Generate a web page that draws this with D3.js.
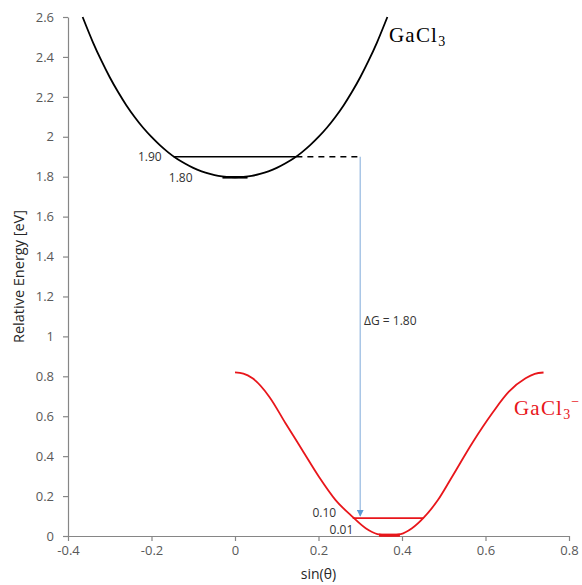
<html>
<head>
<meta charset="utf-8">
<script src="https://d3js.org/d3.v7.min.js"></script>
<style>
  body { margin: 0; background: #fff; }
  svg text { font-family: "Open Sans", "Liberation Sans", sans-serif; }
</style>
</head>
<body>
<svg width="582" height="585"></svg>
<script>
// ---------------- data ----------------
const xTicks = [-0.4, -0.2, 0, 0.2, 0.4, 0.6, 0.8];
const xTickLabels = ["-0.4", "-0.2", "0", "0.2", "0.4", "0.6", "0.8"];
const yTicks = [0, 0.2, 0.4, 0.6, 0.8, 1, 1.2, 1.4, 1.6, 1.8, 2, 2.2, 2.4, 2.6];
const yTickLabels = ["0", "0.2", "0.4", "0.6", "0.8", "1", "1.2", "1.4", "1.6", "1.8", "2", "2.2", "2.4", "2.6"];

// GaCl3 (neutral) curve
const neutralSin = [-0.365, -0.34, -0.32, -0.30, -0.28, -0.26, -0.24, -0.22, -0.20, -0.18, -0.16, -0.14, -0.12, -0.10, -0.08, -0.06, -0.04, -0.02, 0,
  0.02, 0.04, 0.06, 0.08, 0.10, 0.12, 0.14, 0.16, 0.18, 0.20, 0.22, 0.24, 0.26, 0.28, 0.30, 0.32, 0.34, 0.365];
const neutralEnergy = [2.600, 2.472, 2.381, 2.298, 2.224, 2.157, 2.098, 2.045, 1.999, 1.958, 1.922, 1.891, 1.866, 1.844, 1.827, 1.814, 1.804, 1.799, 1.797,
  1.799, 1.804, 1.814, 1.827, 1.844, 1.866, 1.891, 1.922, 1.958, 1.999, 2.045, 2.098, 2.157, 2.224, 2.298, 2.381, 2.472, 2.600];

// GaCl3- (anion) curve
const anionSin = [0.000, 0.020, 0.042, 0.082, 0.121, 0.161, 0.201, 0.241, 0.281, 0.313, 0.341, 0.369, 0.397, 0.424, 0.452, 0.486, 0.520, 0.568, 0.616, 0.656, 0.696, 0.718, 0.739];
const anionEnergy = [0.820, 0.814, 0.790, 0.698, 0.565, 0.431, 0.297, 0.180, 0.097, 0.039, 0.010, 0.003, 0.010, 0.039, 0.092, 0.180, 0.297, 0.465, 0.615, 0.723, 0.790, 0.812, 0.819];

// levels and annotations
const neutralLevel = { x0: -0.147, x1: 0.147, y: 1.90 };
const neutralMin = { x0: -0.03, x1: 0.03, y: 1.797 };
const anionLevel = { x0: 0.282, x1: 0.452, y: 0.09 };
const anionMin = { x0: 0.345, x1: 0.395, y: 0.004 };
const dashLevel = { x0: 0.147, x1: 0.30, y: 1.90 };
const arrowData = { x: 0.30, y0: 1.90, y1: 0.10 };
const levelLabels = [
  { text: "1.90", x: -0.204, y: 1.90 },
  { text: "1.80", x: -0.130, y: 1.795 },
  { text: "0.10", x: 0.214, y: 0.115 },
  { text: "0.01", x: 0.255, y: 0.03 }
];
const deltaLabel = { text: "ΔG = 1.80", x: 0.309, y: 1.08 };

// ---------------- setup ----------------
const svg = d3.select("svg");
const x = d3.scaleLinear().domain([-0.4, 0.8]).range([68, 569]);
const y = d3.scaleLinear().domain([0, 2.6]).range([536, 17]);

const axisColor = "#868686";
const tickText = "#595959";

// y axis
const yAxis = svg.append("g")
  .attr("transform", "translate(" + x(-0.4) + ",0)")
  .call(d3.axisLeft(y).tickValues(yTicks).tickSize(5).tickSizeOuter(0).tickPadding(9)
    .tickFormat((d, i) => yTickLabels[i]));
// x axis
const xAxis = svg.append("g")
  .attr("transform", "translate(0," + y(0) + ")")
  .call(d3.axisBottom(x).tickValues(xTicks).tickSize(5).tickSizeOuter(0).tickPadding(5)
    .tickFormat((d, i) => xTickLabels[i]));

[yAxis, xAxis].forEach(a => {
  a.selectAll("path, line").attr("stroke", axisColor).attr("stroke-width", 1.2);
  a.selectAll("text").attr("fill", tickText).style("font-size", "13px");
});

// axis titles
svg.append("text")
  .attr("x", (x(-0.4) + x(0.8)) / 2)
  .attr("y", 579)
  .attr("text-anchor", "middle")
  .attr("fill", "#262626")
  .style("font-size", "14px")
  .text("sin(θ)");

svg.append("text")
  .attr("transform", "translate(24," + (y(0) + y(2.6)) / 2 + ") rotate(-90)")
  .attr("text-anchor", "middle")
  .attr("fill", "#262626")
  .style("font-size", "14.5px")
  .text("Relative Energy [eV]");

// ---------------- curves ----------------
const line = d3.line()
  .x(d => x(d[0]))
  .y(d => y(d[1]))
  .curve(d3.curveMonotoneX);

svg.append("path")
  .datum(d3.zip(neutralSin, neutralEnergy))
  .attr("d", line)
  .attr("fill", "none")
  .attr("stroke", "#000")
  .attr("stroke-width", 1.8);

svg.append("path")
  .datum(d3.zip(anionSin, anionEnergy))
  .attr("d", line)
  .attr("fill", "none")
  .attr("stroke", "#e8161b")
  .attr("stroke-width", 1.8);

// levels
function hline(l, color, width, dash) {
  const h = svg.append("line")
    .attr("x1", x(l.x0)).attr("x2", x(l.x1))
    .attr("y1", y(l.y)).attr("y2", y(l.y))
    .attr("stroke", color)
    .attr("stroke-width", width);
  if (dash) h.attr("stroke-dasharray", dash);
}
hline(neutralLevel, "#000", 1.5);
hline(neutralMin, "#000", 2.6);
hline(dashLevel, "#000", 1.5, "6,5");
hline(anionLevel, "#e8161b", 1.8);
hline(anionMin, "#e8161b", 3.2);

// arrow
svg.append("defs").append("marker")
  .attr("id", "arrowhead")
  .attr("viewBox", "0 0 10 10")
  .attr("refX", 9).attr("refY", 5)
  .attr("markerWidth", 7).attr("markerHeight", 7)
  .attr("markerUnits", "userSpaceOnUse")
  .attr("orient", "auto")
  .append("path")
  .attr("d", "M0,0 L10,5 L0,10 z")
  .attr("fill", "#5b9bd5");

svg.append("line")
  .attr("x1", x(arrowData.x)).attr("x2", x(arrowData.x))
  .attr("y1", y(arrowData.y0)).attr("y2", y(arrowData.y1))
  .attr("stroke", "#a9c6e6")
  .attr("stroke-width", 1.5)
  .attr("marker-end", "url(#arrowhead)");

// labels
svg.selectAll(".lvl")
  .data(levelLabels)
  .enter()
  .append("text")
  .attr("class", "lvl")
  .attr("x", d => x(d.x))
  .attr("y", d => y(d.y))
  .attr("dy", "0.35em")
  .attr("text-anchor", "middle")
  .attr("fill", "#333")
  .style("font-size", "12px")
  .text(d => d.text);

svg.append("text")
  .attr("x", x(deltaLabel.x))
  .attr("y", y(deltaLabel.y))
  .attr("dy", "0.35em")
  .attr("fill", "#333")
  .style("font-size", "12px")
  .text(deltaLabel.text);

// species names
const gacl3 = svg.append("text")
  .attr("x", 389).attr("y", 42)
  .attr("fill", "#000")
  .style("font-family", "'Liberation Serif', serif")
  .style("font-size", "21px")
  .style("letter-spacing", "1.2px");
gacl3.append("tspan").text("GaCl");
gacl3.append("tspan").attr("dy", 4).style("font-size", "14px").text("3");

const anion = svg.append("text")
  .attr("x", 514).attr("y", 415)
  .attr("fill", "#e8161b")
  .style("font-family", "'Liberation Serif', serif")
  .style("font-size", "21px")
  .style("letter-spacing", "1.2px");
anion.append("tspan").text("GaCl");
anion.append("tspan").attr("dy", 4).style("font-size", "14px").text("3");
anion.append("tspan").attr("dy", -13).style("font-size", "14px").text("−");
</script>
</body>
</html>
